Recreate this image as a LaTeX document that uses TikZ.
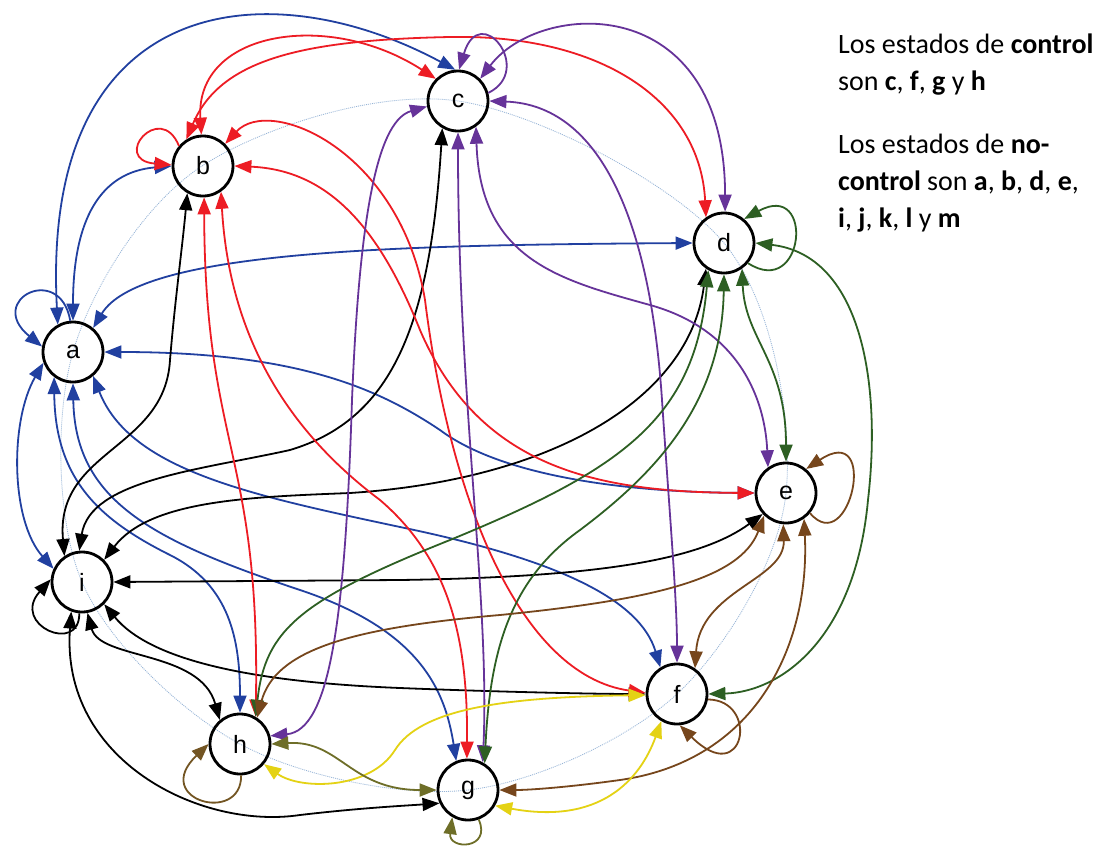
\documentclass[tikz,border=0pt]{standalone}
\usepackage{fontspec}
\usetikzlibrary{arrows.meta}
\newfontfamily\nodefont{Liberation Sans}
\newfontfamily\txtfont{Carlito}
\definecolor{ablue}{RGB}{33,64,160}
\definecolor{bred}{RGB}{237,28,36}
\definecolor{cpurple}{RGB}{102,51,153}
\definecolor{dgreen}{RGB}{45,95,35}
\definecolor{ebrown}{RGB}{118,70,28}
\definecolor{fyellow}{RGB}{228,210,20}
\definecolor{golive}{RGB}{110,110,40}
\definecolor{hbrown}{RGB}{115,85,35}
\definecolor{guide}{RGB}{150,180,215}
\tikzset{
  st/.style={circle, draw, line width=2.8pt, minimum size=60pt, inner sep=0pt,
    font={\nodefont\fontsize{25}{29}\selectfont}},
  ed/.style={line width=1.8pt, {Triangle[length=17pt,width=13pt]}-{Triangle[length=17pt,width=13pt]}},
  lp/.style={line width=1.8pt, -{Triangle[length=17pt,width=13pt]}},
  txt/.style={anchor=base west, inner sep=0pt, font={\txtfont\fontsize{28}{34}\selectfont}},
  guideline/.style={guide, line width=0.8pt, dash pattern=on 1pt off 1pt}
}
\begin{document}
\begin{tikzpicture}[x=1pt,y=-1pt]
\useasboundingbox (0,0) rectangle (1104,849);
\fill[white] (0,0) rectangle (1104,849);

% guide curve
\draw[guideline] plot[smooth cycle, tension=0.55] coordinates {(73,352) (202,166) (458,101) (724,243) (786,493) (677,694) (468,790) (240,744) (82,582)};

% nodes
\node[st] (a) at (73,352) {a};
\node[st] (b) at (203,166) {b};
\node[st] (c) at (458,101) {c};
\node[st] (d) at (724,243) {d};
\node[st] (e) at (786,493) {e};
\node[st] (f) at (677,694) {f};
\node[st] (g) at (468,790) {g};
\node[st] (h) at (240,744) {h};
\node[st] (i) at (82,582) {i};

% blue (a)
\draw[ed,ablue] (a.119) .. controls (40,-10) and (270,-30) .. (c.95);
\draw[ed,ablue] (a.90) .. controls (73,220) and (100,172) .. (b.180);
\draw[lp,ablue] (a.95) .. controls (60,262) and (-15,300) .. (a.170);
\draw[ed,ablue] (a.50) .. controls (140,250) and (400,245) .. (d.180);
\draw[ed,ablue] (a.0) .. controls (300,352) and (380,390) .. (440,430) .. controls (500,475) and (620,492) .. (e.180);
\draw[ed,ablue] (a.200) .. controls (10,420) and (10,520) .. (i.155);
\draw[ed,ablue] (a.233) .. controls (55,480) and (100,520) .. (170,555) .. controls (230,585) and (240,640) .. (h.90);
\draw[ed,ablue] (a.270) .. controls (75,500) and (150,540) .. (300,590) .. controls (420,630) and (445,690) .. (g.112);
\draw[ed,ablue] (a.-50) .. controls (130,470) and (250,495) .. (400,527) .. controls (560,560) and (640,600) .. (f.122);

% black (i)
\draw[ed] (i.124) .. controls (55,450) and (165,450) .. (170,360) .. controls (175,300) and (182,250) .. (b.240);
\draw[ed] (i.95) .. controls (90,480) and (200,470) .. (290,450) .. controls (390,420) and (430,330) .. (c.240);
\draw[ed] (i.45) .. controls (150,500) and (250,497) .. (350,493) .. controls (550,480) and (690,400) .. (d.235);
\draw[ed] (i.0) -- (400,580) .. controls (600,577) and (700,560) .. (e.222);
\draw[ed] (i.-45) .. controls (150,660) and (250,682) .. (400,688) .. controls (500,692) and (600,694) .. (f.180);
\draw[ed] (i.-80) .. controls (100,660) and (200,650) .. (h.130);
\draw[ed] (i.-110) .. controls (60,760) and (200,830) .. (300,815) .. controls (360,808) and (400,806) .. (g.205);
\draw[lp] (i.-95) .. controls (80,655) and (10,625) .. (i.175);

% red (b)
\draw[lp,bred] (b.140) .. controls (160,100) and (110,160) .. (b.178);
\draw[ed,bred] (b.93) .. controls (195,30) and (330,10) .. (c.135);
\draw[ed,bred] (b.122) .. controls (220,60) and (300,40) .. (450,37) .. controls (600,34) and (700,100) .. (d.125);
\draw[ed,bred] (b.0) .. controls (330,170) and (380,230) .. (420,330) .. controls (480,470) and (600,492) .. (e.180);
\draw[ed,bred] (b.45) .. controls (270,95) and (400,150) .. (425,300) .. controls (450,500) and (520,675) .. (f.178);
\draw[ed,bred] (b.-55) .. controls (230,350) and (300,440) .. (380,500) .. controls (450,560) and (468,640) .. (g.92);
\draw[ed,bred] (b.-88) .. controls (205,450) and (260,450) .. (h.60);

% purple (c)
\draw[lp,cpurple] (c.15) .. controls (535,70) and (480,0) .. (c.88);
\draw[ed,cpurple] (c.45) .. controls (540,0) and (725,-10) .. (d.88);
\draw[ed,cpurple] (c.-55) .. controls (480,260) and (560,280) .. (650,305) .. controls (740,330) and (765,400) .. (e.125);
\draw[ed,cpurple] (c.0) .. controls (600,105) and (650,220) .. (662,400) .. controls (670,520) and (677,600) .. (f.90);
\draw[ed,cpurple] (c.-90) .. controls (458,400) and (490,600) .. (g.62);
\draw[ed,cpurple] (c.190) .. controls (380,120) and (360,200) .. (352,400) .. controls (345,620) and (330,730) .. (h.15);

% green (d)
\draw[lp,dgreen] (d.-40) .. controls (805,300) and (815,180) .. (d.50);
\draw[ed,dgreen] (d.-55) .. controls (745,340) and (786,360) .. (e.90);
\draw[ed,dgreen] (d.0) .. controls (860,255) and (882,380) .. (868,500) .. controls (855,640) and (780,692) .. (f.0);
\draw[ed,dgreen] (d.-90) .. controls (722,400) and (660,470) .. (580,530) .. controls (510,580) and (490,650) .. (g.58);
\draw[ed,dgreen] (d.240) .. controls (695,420) and (620,470) .. (450,540) .. controls (300,600) and (265,630) .. (h.60);

% brown (e)
\draw[lp,ebrown] (e.-40) .. controls (850,560) and (880,420) .. (e.50);
\draw[ed,ebrown] (e.226) .. controls (740,580) and (650,600) .. (500,615) .. controls (350,628) and (275,650) .. (h.57);
\draw[ed,ebrown] (e.-95) .. controls (785,580) and (700,590) .. (f.55);
\draw[ed,ebrown] (e.-55) .. controls (810,640) and (760,760) .. (620,780) .. controls (570,787) and (530,790) .. (g.0);
\draw[lp,ebrown] (f.-10) .. controls (760,700) and (745,790) .. (f.-85);

% yellow (f)
\draw[ed,fyellow] (h.-40) .. controls (300,790) and (370,790) .. (395,750) .. controls (420,710) and (500,697) .. (f.182);
\draw[ed,fyellow] (g.-30) .. controls (600,825) and (640,780) .. (f.240);

% olive (g)
\draw[ed,golive] (h.0) .. controls (340,740) and (350,790) .. (g.180);
\draw[lp,golive] (g.-70) .. controls (492,850) and (448,850) .. (g.240);

% brown loop (h)
\draw[lp,hbrown] (h.-88) .. controls (242,825) and (150,800) .. (h.180);

% text
\node[txt] (t1) at (838,53) {Los estados de \textbf{control}};
\node[txt] (t2) at (838,90) {son \textbf{c}, \textbf{f}, \textbf{g} y \textbf{h}};
\node[txt] (t3) at (838,153) {Los estados de \textbf{no-}};
\node[txt] (t4) at (838,190) {\textbf{control} son \textbf{a}, \textbf{b}, \textbf{d}, \textbf{e},};
\node[txt] (t5) at (838,227) {\textbf{i}, \textbf{j}, \textbf{k}, \textbf{l} y \textbf{m}};
\end{tikzpicture}
\end{document}
